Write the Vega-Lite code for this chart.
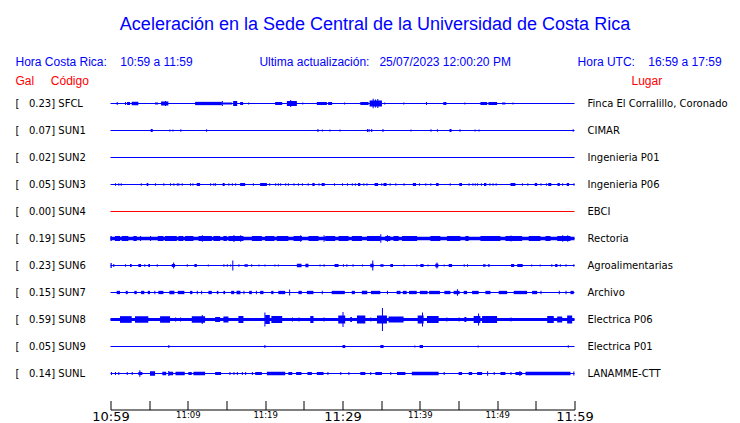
{
  "$schema": "https://vega.github.io/schema/vega-lite/v6.json",
  "autosize": {"type": "none"},
  "width": 464,
  "height": 324,
  "padding": {"left": 110.5, "top": 76.5, "right": 165.5, "bottom": 22.5},
  "background": "white",
  "config": {"view": {"stroke": null}, "font": "Liberation Sans"},
  "title": {
    "text": "Aceleración en la Sede Central de la Universidad de Costa Rica",
    "anchor": "middle",
    "frame": "group",
    "dx": 32.5,
    "font": "Liberation Sans",
    "fontSize": 18,
    "fontWeight": "normal",
    "color": "#0000ff",
    "offset": 21
  },
  "datasets": {
    "stations": [
      {"s": "SFCL", "gal": 0.23, "lugar": "Finca El Corralillo, Coronado"},
      {"s": "SUN1", "gal": 0.07, "lugar": "CIMAR"},
      {"s": "SUN2", "gal": 0.02, "lugar": "Ingenieria P01"},
      {"s": "SUN3", "gal": 0.05, "lugar": "Ingenieria P06"},
      {"s": "SUN4", "gal": 0.00, "lugar": "EBCI"},
      {"s": "SUN5", "gal": 0.19, "lugar": "Rectoria"},
      {"s": "SUN6", "gal": 0.23, "lugar": "Agroalimentarias"},
      {"s": "SUN7", "gal": 0.15, "lugar": "Archivo"},
      {"s": "SUN8", "gal": 0.59, "lugar": "Electrica P06"},
      {"s": "SUN9", "gal": 0.05, "lugar": "Electrica P01"},
      {"s": "SUNL", "gal": 0.14, "lugar": "LANAMME-CTT"}
    ],
    "bursts": [
      {"s":"SFCL","t0":0.80,"t1":0.93,"a":3},{"s":"SFCL","t0":1.88,"t1":2.01,"a":3},{"s":"SFCL","t0":2.14,"t1":2.52,"a":3},{"s":"SFCL","t0":2.74,"t1":3.60,"a":3.5},{"s":"SFCL","t0":5.76,"t1":6.15,"a":2},{"s":"SFCL","t0":6.54,"t1":7.48,"a":4},{"s":"SFCL","t0":7.05,"t1":7.18,"a":5},{"s":"SFCL","t0":10.94,"t1":14.40,"a":3.3},{"s":"SFCL","t0":14.40,"t1":14.53,"a":5},{"s":"SFCL","t0":14.56,"t1":15.73,"a":2},{"s":"SFCL","t0":15.86,"t1":16.38,"a":5},{"s":"SFCL","t0":16.76,"t1":17.15,"a":3},{"s":"SFCL","t0":17.80,"t1":17.93,"a":2},{"s":"SFCL","t0":21.29,"t1":22.20,"a":3},{"s":"SFCL","t0":22.81,"t1":24.10,"a":5},{"s":"SFCL","t0":23.24,"t1":23.37,"a":7},{"s":"SFCL","t0":24.79,"t1":24.92,"a":2},{"s":"SFCL","t0":26.68,"t1":27.98,"a":3},{"s":"SFCL","t0":28.14,"t1":28.66,"a":3},{"s":"SFCL","t0":30.21,"t1":30.34,"a":2},{"s":"SFCL","t0":32.30,"t1":33.37,"a":3},{"s":"SFCL","t0":33.50,"t1":35.10,"a":6},{"s":"SFCL","t0":33.90,"t1":34.03,"a":9.5},{"s":"SFCL","t0":34.20,"t1":34.33,"a":8},{"s":"SFCL","t0":34.50,"t1":34.63,"a":9},{"s":"SFCL","t0":35.39,"t1":35.52,"a":2},{"s":"SFCL","t0":37.86,"t1":37.99,"a":2},{"s":"SFCL","t0":40.80,"t1":40.93,"a":3},{"s":"SFCL","t0":43.04,"t1":43.43,"a":3},{"s":"SFCL","t0":45.76,"t1":45.89,"a":2},{"s":"SFCL","t0":47.83,"t1":48.70,"a":3},{"s":"SFCL","t0":48.87,"t1":49.99,"a":3},{"s":"SFCL","t0":50.66,"t1":51.05,"a":2},{"s":"SFCL","t0":51.98,"t1":52.11,"a":2},
      {"s":"SUN1","t0":5.20,"t1":5.46,"a":3},{"s":"SUN1","t0":7.61,"t1":7.74,"a":2},{"s":"SUN1","t0":8.00,"t1":8.13,"a":2},{"s":"SUN1","t0":9.03,"t1":9.16,"a":2.5},{"s":"SUN1","t0":12.36,"t1":12.49,"a":2.5},{"s":"SUN1","t0":26.76,"t1":26.89,"a":3},{"s":"SUN1","t0":27.33,"t1":27.46,"a":2},{"s":"SUN1","t0":28.31,"t1":28.44,"a":2},{"s":"SUN1","t0":29.61,"t1":29.74,"a":2},{"s":"SUN1","t0":33.16,"t1":33.29,"a":3},{"s":"SUN1","t0":33.37,"t1":33.50,"a":3},{"s":"SUN1","t0":33.71,"t1":33.84,"a":3},{"s":"SUN1","t0":35.17,"t1":35.30,"a":3},{"s":"SUN1","t0":38.79,"t1":38.92,"a":2},{"s":"SUN1","t0":41.38,"t1":41.51,"a":2.5},{"s":"SUN1","t0":42.21,"t1":42.34,"a":2.5},{"s":"SUN1","t0":43.84,"t1":44.10,"a":3},{"s":"SUN1","t0":45.13,"t1":45.26,"a":2.5},{"s":"SUN1","t0":47.08,"t1":47.21,"a":2},{"s":"SUN1","t0":47.59,"t1":47.72,"a":2},{"s":"SUN1","t0":59.76,"t1":59.89,"a":2.5},
      {"s":"SUN3","t0":0.58,"t1":0.71,"a":2.5},{"s":"SUN3","t0":1.01,"t1":1.14,"a":2.5},{"s":"SUN3","t0":1.32,"t1":1.45,"a":2.5},{"s":"SUN3","t0":3.91,"t1":4.04,"a":2.5},{"s":"SUN3","t0":4.68,"t1":4.89,"a":3},{"s":"SUN3","t0":5.76,"t1":5.89,"a":2.5},{"s":"SUN3","t0":6.83,"t1":6.96,"a":2.5},{"s":"SUN3","t0":7.70,"t1":7.83,"a":2.5},{"s":"SUN3","t0":8.13,"t1":8.26,"a":2.5},{"s":"SUN3","t0":8.57,"t1":8.70,"a":2.5},{"s":"SUN3","t0":8.77,"t1":8.90,"a":2.5},{"s":"SUN3","t0":9.21,"t1":9.34,"a":2.5},{"s":"SUN3","t0":10.29,"t1":10.42,"a":2.5},{"s":"SUN3","t0":10.59,"t1":10.72,"a":2.5},{"s":"SUN3","t0":11.15,"t1":11.58,"a":3},{"s":"SUN3","t0":12.88,"t1":13.01,"a":2.5},{"s":"SUN3","t0":13.30,"t1":13.43,"a":2.5},{"s":"SUN3","t0":13.52,"t1":13.65,"a":2.5},{"s":"SUN3","t0":14.50,"t1":14.76,"a":3},{"s":"SUN3","t0":15.24,"t1":15.37,"a":2.5},{"s":"SUN3","t0":15.69,"t1":15.82,"a":2.5},{"s":"SUN3","t0":16.12,"t1":16.25,"a":2.5},{"s":"SUN3","t0":16.76,"t1":17.41,"a":3},{"s":"SUN3","t0":18.41,"t1":18.54,"a":2.5},{"s":"SUN3","t0":19.35,"t1":20.22,"a":3},{"s":"SUN3","t0":20.52,"t1":20.65,"a":2.5},{"s":"SUN3","t0":21.29,"t1":21.42,"a":2.5},{"s":"SUN3","t0":21.64,"t1":21.77,"a":2.5},{"s":"SUN3","t0":21.94,"t1":22.07,"a":2.5},{"s":"SUN3","t0":22.59,"t1":22.72,"a":2.5},{"s":"SUN3","t0":22.94,"t1":23.07,"a":2.5},{"s":"SUN3","t0":23.66,"t1":23.79,"a":2.5},{"s":"SUN3","t0":24.23,"t1":24.36,"a":2.5},{"s":"SUN3","t0":24.75,"t1":24.88,"a":2.5},{"s":"SUN3","t0":25.50,"t1":25.63,"a":2.5},{"s":"SUN3","t0":26.10,"t1":26.40,"a":3},{"s":"SUN3","t0":26.90,"t1":27.03,"a":2.5},{"s":"SUN3","t0":27.30,"t1":27.70,"a":3},{"s":"SUN3","t0":28.89,"t1":29.02,"a":2.5},{"s":"SUN3","t0":29.93,"t1":30.06,"a":2.5},{"s":"SUN3","t0":30.58,"t1":30.71,"a":2.5},{"s":"SUN3","t0":31.20,"t1":31.33,"a":2.5},{"s":"SUN3","t0":31.60,"t1":31.73,"a":2.5},{"s":"SUN3","t0":32.00,"t1":32.30,"a":3},{"s":"SUN3","t0":32.70,"t1":32.83,"a":2.5},{"s":"SUN3","t0":33.10,"t1":33.23,"a":2.5},{"s":"SUN3","t0":34.15,"t1":34.60,"a":3},{"s":"SUN3","t0":35.00,"t1":35.13,"a":2.5},{"s":"SUN3","t0":35.30,"t1":35.70,"a":3},{"s":"SUN3","t0":36.10,"t1":36.23,"a":2.5},{"s":"SUN3","t0":36.83,"t1":36.96,"a":2.5},{"s":"SUN3","t0":37.90,"t1":38.03,"a":2.5},{"s":"SUN3","t0":39.10,"t1":39.50,"a":3},{"s":"SUN3","t0":39.90,"t1":40.03,"a":2.5},{"s":"SUN3","t0":40.71,"t1":40.84,"a":2.5},{"s":"SUN3","t0":41.36,"t1":41.49,"a":2.5},{"s":"SUN3","t0":42.10,"t1":42.43,"a":3},{"s":"SUN3","t0":43.86,"t1":43.99,"a":2.5},{"s":"SUN3","t0":45.10,"t1":45.45,"a":3},{"s":"SUN3","t0":46.30,"t1":46.43,"a":2.5},{"s":"SUN3","t0":46.80,"t1":46.93,"a":2.5},{"s":"SUN3","t0":47.10,"t1":47.23,"a":2.5},{"s":"SUN3","t0":47.40,"t1":47.53,"a":2.5},{"s":"SUN3","t0":47.90,"t1":48.03,"a":2.5},{"s":"SUN3","t0":48.30,"t1":48.60,"a":3},{"s":"SUN3","t0":49.00,"t1":49.13,"a":2.5},{"s":"SUN3","t0":49.40,"t1":49.53,"a":2.5},{"s":"SUN3","t0":49.80,"t1":49.93,"a":2.5},{"s":"SUN3","t0":51.72,"t1":52.36,"a":3},{"s":"SUN3","t0":53.20,"t1":53.33,"a":2.5},{"s":"SUN3","t0":53.90,"t1":54.03,"a":2.5},{"s":"SUN3","t0":54.86,"t1":55.17,"a":3},{"s":"SUN3","t0":55.60,"t1":55.73,"a":2.5},{"s":"SUN3","t0":56.30,"t1":56.43,"a":2.5},{"s":"SUN3","t0":56.60,"t1":57.00,"a":3},{"s":"SUN3","t0":57.80,"t1":58.10,"a":3},{"s":"SUN3","t0":58.40,"t1":58.53,"a":2.5},{"s":"SUN3","t0":59.00,"t1":59.30,"a":3},{"s":"SUN3","t0":59.87,"t1":60.00,"a":2.5},
      {"s":"SUN5","t0":0,"t1":60,"a":3.3},{"s":"SUN5","t0":0,"t1":0.16,"a":5},{"s":"SUN5","t0":0.58,"t1":1.23,"a":5},{"s":"SUN5","t0":1.45,"t1":2.30,"a":5},{"s":"SUN5","t0":2.95,"t1":3.39,"a":5},{"s":"SUN5","t0":3.82,"t1":3.95,"a":5},{"s":"SUN5","t0":5.11,"t1":5.24,"a":5},{"s":"SUN5","t0":6.11,"t1":6.84,"a":5},{"s":"SUN5","t0":7.05,"t1":8.57,"a":5},{"s":"SUN5","t0":8.78,"t1":9.42,"a":5},{"s":"SUN5","t0":9.64,"t1":10.72,"a":5},{"s":"SUN5","t0":11.37,"t1":13.10,"a":5},{"s":"SUN5","t0":11.81,"t1":11.94,"a":6.7},{"s":"SUN5","t0":13.31,"t1":14.17,"a":5},{"s":"SUN5","t0":14.60,"t1":15.04,"a":5},{"s":"SUN5","t0":15.25,"t1":17.19,"a":5},{"s":"SUN5","t0":15.90,"t1":16.03,"a":7},{"s":"SUN5","t0":16.76,"t1":16.89,"a":6.5},{"s":"SUN5","t0":18.28,"t1":19.57,"a":5},{"s":"SUN5","t0":20.00,"t1":21.20,"a":5},{"s":"SUN5","t0":21.50,"t1":23.00,"a":5},{"s":"SUN5","t0":23.66,"t1":24.75,"a":5},{"s":"SUN5","t0":24.53,"t1":24.66,"a":6.5},{"s":"SUN5","t0":25.60,"t1":26.90,"a":5},{"s":"SUN5","t0":27.55,"t1":27.68,"a":6.7},{"s":"SUN5","t0":27.77,"t1":29.06,"a":5},{"s":"SUN5","t0":29.49,"t1":30.78,"a":5},{"s":"SUN5","t0":31.22,"t1":32.52,"a":5},{"s":"SUN5","t0":33.16,"t1":34.89,"a":5},{"s":"SUN5","t0":34.89,"t1":35.02,"a":8.7},{"s":"SUN5","t0":35.53,"t1":36.18,"a":5},{"s":"SUN5","t0":35.75,"t1":35.88,"a":6.5},{"s":"SUN5","t0":36.60,"t1":37.26,"a":5},{"s":"SUN5","t0":37.70,"t1":39.64,"a":5},{"s":"SUN5","t0":41.36,"t1":42.65,"a":5},{"s":"SUN5","t0":43.52,"t1":45.24,"a":5},{"s":"SUN5","t0":45.89,"t1":46.32,"a":5},{"s":"SUN5","t0":47.83,"t1":50.42,"a":5},{"s":"SUN5","t0":51.07,"t1":53.23,"a":5},{"s":"SUN5","t0":51.72,"t1":51.85,"a":6},{"s":"SUN5","t0":54.08,"t1":55.60,"a":5},{"s":"SUN5","t0":56.24,"t1":56.89,"a":5},{"s":"SUN5","t0":57.76,"t1":59.48,"a":5},{"s":"SUN5","t0":58.41,"t1":58.54,"a":6.5},{"s":"SUN5","t0":59.06,"t1":59.19,"a":6.5},
      {"s":"SUN6","t0":0.00,"t1":0.16,"a":5},{"s":"SUN6","t0":0.36,"t1":0.49,"a":3},{"s":"SUN6","t0":1.88,"t1":2.01,"a":2.5},{"s":"SUN6","t0":2.52,"t1":2.74,"a":3},{"s":"SUN6","t0":3.60,"t1":3.95,"a":3},{"s":"SUN6","t0":4.37,"t1":4.50,"a":2.5},{"s":"SUN6","t0":4.89,"t1":5.11,"a":3},{"s":"SUN6","t0":5.98,"t1":6.11,"a":2.5},{"s":"SUN6","t0":7.92,"t1":8.35,"a":3},{"s":"SUN6","t0":8.10,"t1":8.23,"a":6},{"s":"SUN6","t0":9.86,"t1":9.99,"a":2.5},{"s":"SUN6","t0":10.85,"t1":11.16,"a":3},{"s":"SUN6","t0":12.58,"t1":12.71,"a":2},{"s":"SUN6","t0":14.60,"t1":14.73,"a":2.5},{"s":"SUN6","t0":15.04,"t1":15.17,"a":2.5},{"s":"SUN6","t0":15.47,"t1":15.60,"a":2},{"s":"SUN6","t0":15.75,"t1":15.88,"a":10},{"s":"SUN6","t0":16.54,"t1":16.67,"a":2.5},{"s":"SUN6","t0":17.32,"t1":17.76,"a":2.5},{"s":"SUN6","t0":18.19,"t1":18.32,"a":2.5},{"s":"SUN6","t0":19.13,"t1":19.26,"a":2},{"s":"SUN6","t0":19.91,"t1":20.04,"a":2},{"s":"SUN6","t0":21.20,"t1":21.33,"a":2},{"s":"SUN6","t0":21.64,"t1":21.77,"a":2},{"s":"SUN6","t0":24.10,"t1":24.70,"a":3.5},{"s":"SUN6","t0":25.20,"t1":25.60,"a":3.5},{"s":"SUN6","t0":27.03,"t1":27.16,"a":2},{"s":"SUN6","t0":27.55,"t1":27.68,"a":2.5},{"s":"SUN6","t0":28.97,"t1":29.49,"a":3},{"s":"SUN6","t0":30.06,"t1":30.19,"a":2.5},{"s":"SUN6","t0":30.50,"t1":30.63,"a":2.5},{"s":"SUN6","t0":31.30,"t1":31.43,"a":2.5},{"s":"SUN6","t0":32.52,"t1":32.65,"a":2},{"s":"SUN6","t0":33.59,"t1":34.02,"a":3.5},{"s":"SUN6","t0":33.85,"t1":33.98,"a":10},{"s":"SUN6","t0":34.89,"t1":35.31,"a":2.5},{"s":"SUN6","t0":36.18,"t1":36.53,"a":3},{"s":"SUN6","t0":37.90,"t1":38.03,"a":2},{"s":"SUN6","t0":39.55,"t1":39.68,"a":2},{"s":"SUN6","t0":40.06,"t1":40.49,"a":3},{"s":"SUN6","t0":41.00,"t1":41.13,"a":2},{"s":"SUN6","t0":42.00,"t1":42.40,"a":3.5},{"s":"SUN6","t0":42.15,"t1":42.28,"a":6},{"s":"SUN6","t0":43.08,"t1":43.21,"a":2},{"s":"SUN6","t0":43.73,"t1":44.17,"a":3},{"s":"SUN6","t0":45.67,"t1":45.80,"a":2.5},{"s":"SUN6","t0":46.10,"t1":46.23,"a":2.5},{"s":"SUN6","t0":48.18,"t1":48.50,"a":2.5},{"s":"SUN6","t0":48.80,"t1":49.04,"a":2.5},{"s":"SUN6","t0":51.80,"t1":52.20,"a":3},{"s":"SUN6","t0":52.60,"t1":53.30,"a":3},{"s":"SUN6","t0":54.40,"t1":54.53,"a":2},{"s":"SUN6","t0":55.50,"t1":55.63,"a":2},{"s":"SUN6","t0":57.00,"t1":57.13,"a":2.5},{"s":"SUN6","t0":57.50,"t1":57.80,"a":3},{"s":"SUN6","t0":58.10,"t1":58.23,"a":2.5},{"s":"SUN6","t0":58.84,"t1":58.97,"a":2.5},{"s":"SUN6","t0":59.85,"t1":59.98,"a":2.5},
      {"s":"SUN7","t0":0.80,"t1":1.23,"a":3.3},{"s":"SUN7","t0":1.97,"t1":2.23,"a":3.3},{"s":"SUN7","t0":3.08,"t1":3.39,"a":3.3},{"s":"SUN7","t0":3.95,"t1":4.37,"a":3.3},{"s":"SUN7","t0":4.82,"t1":5.11,"a":3.3},{"s":"SUN7","t0":5.67,"t1":5.80,"a":3.3},{"s":"SUN7","t0":6.19,"t1":6.84,"a":3.3},{"s":"SUN7","t0":7.61,"t1":8.26,"a":3.3},{"s":"SUN7","t0":8.70,"t1":9.55,"a":3.3},{"s":"SUN7","t0":10.29,"t1":10.59,"a":3.3},{"s":"SUN7","t0":11.16,"t1":11.29,"a":3.3},{"s":"SUN7","t0":11.72,"t1":11.85,"a":3.3},{"s":"SUN7","t0":12.66,"t1":13.10,"a":3.3},{"s":"SUN7","t0":13.75,"t1":13.95,"a":3.3},{"s":"SUN7","t0":14.60,"t1":14.82,"a":3.3},{"s":"SUN7","t0":15.60,"t1":16.00,"a":3.3},{"s":"SUN7","t0":16.30,"t1":16.80,"a":3.3},{"s":"SUN7","t0":17.19,"t1":17.32,"a":3.3},{"s":"SUN7","t0":17.93,"t1":18.28,"a":3.3},{"s":"SUN7","t0":18.80,"t1":18.93,"a":3.3},{"s":"SUN7","t0":19.35,"t1":19.78,"a":3.3},{"s":"SUN7","t0":20.78,"t1":21.07,"a":3.3},{"s":"SUN7","t0":21.70,"t1":22.59,"a":3.3},{"s":"SUN7","t0":23.10,"t1":23.23,"a":6},{"s":"SUN7","t0":24.30,"t1":24.74,"a":3.3},{"s":"SUN7","t0":25.39,"t1":26.24,"a":3.3},{"s":"SUN7","t0":27.32,"t1":27.45,"a":3.3},{"s":"SUN7","t0":28.60,"t1":30.30,"a":3.3},{"s":"SUN7","t0":31.20,"t1":31.60,"a":3.3},{"s":"SUN7","t0":32.50,"t1":33.20,"a":3.3},{"s":"SUN7","t0":33.68,"t1":34.89,"a":3.3},{"s":"SUN7","t0":35.75,"t1":35.88,"a":3.3},{"s":"SUN7","t0":37.00,"t1":37.50,"a":3.3},{"s":"SUN7","t0":37.80,"t1":38.30,"a":3.3},{"s":"SUN7","t0":38.60,"t1":39.60,"a":3.3},{"s":"SUN7","t0":40.00,"t1":41.00,"a":3.3},{"s":"SUN7","t0":41.20,"t1":42.60,"a":3.3},{"s":"SUN7","t0":43.17,"t1":43.95,"a":3.3},{"s":"SUN7","t0":44.37,"t1":45.15,"a":3.3},{"s":"SUN7","t0":44.80,"t1":44.93,"a":6.3},{"s":"SUN7","t0":45.67,"t1":46.11,"a":3.3},{"s":"SUN7","t0":46.76,"t1":47.61,"a":3.3},{"s":"SUN7","t0":48.48,"t1":49.13,"a":3.3},{"s":"SUN7","t0":50.20,"t1":51.29,"a":3.3},{"s":"SUN7","t0":52.14,"t1":53.87,"a":3.3},{"s":"SUN7","t0":54.52,"t1":55.17,"a":3.3},{"s":"SUN7","t0":55.60,"t1":55.73,"a":3.3},{"s":"SUN7","t0":57.97,"t1":58.10,"a":3.3},{"s":"SUN7","t0":58.84,"t1":58.97,"a":3.3},{"s":"SUN7","t0":59.48,"t1":59.90,"a":3.3},
      {"s":"SUN8","t0":0,"t1":60,"a":3},{"s":"SUN8","t0":1.23,"t1":2.74,"a":6.7},{"s":"SUN8","t0":3.17,"t1":4.89,"a":6.5},{"s":"SUN8","t0":6.41,"t1":7.70,"a":6.5},{"s":"SUN8","t0":8.35,"t1":8.48,"a":4},{"s":"SUN8","t0":9.00,"t1":9.13,"a":4},{"s":"SUN8","t0":10.51,"t1":12.23,"a":6.5},{"s":"SUN8","t0":11.80,"t1":11.93,"a":9},{"s":"SUN8","t0":13.53,"t1":14.17,"a":5},{"s":"SUN8","t0":14.60,"t1":15.25,"a":6},{"s":"SUN8","t0":16.54,"t1":17.19,"a":7},{"s":"SUN8","t0":19.90,"t1":20.03,"a":14},{"s":"SUN8","t0":20.00,"t1":20.60,"a":9},{"s":"SUN8","t0":20.80,"t1":22.20,"a":7},{"s":"SUN8","t0":23.46,"t1":23.59,"a":4},{"s":"SUN8","t0":24.31,"t1":24.44,"a":4},{"s":"SUN8","t0":25.83,"t1":26.25,"a":7},{"s":"SUN8","t0":27.55,"t1":27.68,"a":4},{"s":"SUN8","t0":29.45,"t1":30.35,"a":8},{"s":"SUN8","t0":30.00,"t1":30.13,"a":15},{"s":"SUN8","t0":31.00,"t1":31.22,"a":5},{"s":"SUN8","t0":31.87,"t1":32.95,"a":8},{"s":"SUN8","t0":33.59,"t1":33.72,"a":4},{"s":"SUN8","t0":34.46,"t1":35.75,"a":8},{"s":"SUN8","t0":35.10,"t1":35.23,"a":23},{"s":"SUN8","t0":35.96,"t1":37.90,"a":6},{"s":"SUN8","t0":39.72,"t1":40.49,"a":8},{"s":"SUN8","t0":40.28,"t1":40.41,"a":14},{"s":"SUN8","t0":40.93,"t1":42.43,"a":7},{"s":"SUN8","t0":43.43,"t1":43.56,"a":4},{"s":"SUN8","t0":45.02,"t1":45.15,"a":4},{"s":"SUN8","t0":45.76,"t1":46.02,"a":5},{"s":"SUN8","t0":46.96,"t1":47.83,"a":7},{"s":"SUN8","t0":47.53,"t1":47.66,"a":12},{"s":"SUN8","t0":48.05,"t1":49.99,"a":7},{"s":"SUN8","t0":51.72,"t1":51.85,"a":4},{"s":"SUN8","t0":56.47,"t1":57.32,"a":7},{"s":"SUN8","t0":57.76,"t1":58.41,"a":6},{"s":"SUN8","t0":59.05,"t1":59.70,"a":8},
      {"s":"SUN9","t0":7.48,"t1":7.61,"a":3},{"s":"SUN9","t0":19.90,"t1":20.03,"a":3},{"s":"SUN9","t0":30.00,"t1":30.35,"a":3},{"s":"SUN9","t0":34.89,"t1":35.31,"a":3},{"s":"SUN9","t0":39.29,"t1":39.42,"a":2},{"s":"SUN9","t0":39.97,"t1":40.41,"a":3},{"s":"SUN9","t0":47.48,"t1":47.61,"a":2},{"s":"SUN9","t0":59.13,"t1":59.26,"a":2.5},
      {"s":"SUNL","t0":0.06,"t1":0.19,"a":3},{"s":"SUNL","t0":0.58,"t1":0.71,"a":3},{"s":"SUNL","t0":1.01,"t1":1.14,"a":3},{"s":"SUNL","t0":2.10,"t1":2.23,"a":3},{"s":"SUNL","t0":2.74,"t1":2.87,"a":3},{"s":"SUNL","t0":3.60,"t1":4.12,"a":3},{"s":"SUNL","t0":3.73,"t1":3.86,"a":6.7},{"s":"SUNL","t0":5.11,"t1":5.76,"a":4.5},{"s":"SUNL","t0":6.70,"t1":7.20,"a":3.5},{"s":"SUNL","t0":7.50,"t1":8.10,"a":3.5},{"s":"SUNL","t0":7.48,"t1":7.61,"a":5},{"s":"SUNL","t0":8.40,"t1":9.60,"a":3.5},{"s":"SUNL","t0":10.07,"t1":10.51,"a":3},{"s":"SUNL","t0":10.72,"t1":12.23,"a":3.5},{"s":"SUNL","t0":13.53,"t1":14.30,"a":3},{"s":"SUNL","t0":15.38,"t1":15.51,"a":3},{"s":"SUNL","t0":15.90,"t1":16.03,"a":3},{"s":"SUNL","t0":16.34,"t1":16.47,"a":3},{"s":"SUNL","t0":16.98,"t1":17.11,"a":3},{"s":"SUNL","t0":17.41,"t1":17.54,"a":3},{"s":"SUNL","t0":18.28,"t1":18.41,"a":3},{"s":"SUNL","t0":18.71,"t1":19.57,"a":3},{"s":"SUNL","t0":20.22,"t1":22.59,"a":3.5},{"s":"SUNL","t0":23.00,"t1":23.50,"a":3},{"s":"SUNL","t0":24.00,"t1":24.70,"a":3},{"s":"SUNL","t0":25.47,"t1":26.04,"a":3},{"s":"SUNL","t0":26.68,"t1":27.55,"a":3},{"s":"SUNL","t0":28.05,"t1":28.18,"a":3},{"s":"SUNL","t0":29.71,"t1":29.84,"a":3},{"s":"SUNL","t0":30.76,"t1":30.89,"a":3},{"s":"SUNL","t0":32.30,"t1":32.95,"a":3},{"s":"SUNL","t0":33.59,"t1":33.72,"a":3},{"s":"SUNL","t0":34.24,"t1":35.10,"a":3},{"s":"SUNL","t0":36.18,"t1":36.31,"a":3},{"s":"SUNL","t0":37.05,"t1":38.13,"a":3},{"s":"SUNL","t0":38.96,"t1":42.43,"a":3.5},{"s":"SUNL","t0":43.08,"t1":43.21,"a":3},{"s":"SUNL","t0":45.02,"t1":45.46,"a":3},{"s":"SUNL","t0":46.32,"t1":46.76,"a":3},{"s":"SUNL","t0":47.41,"t1":48.05,"a":3},{"s":"SUNL","t0":48.70,"t1":48.83,"a":4.5},{"s":"SUNL","t0":49.55,"t1":49.68,"a":3},{"s":"SUNL","t0":50.42,"t1":51.07,"a":3},{"s":"SUNL","t0":51.72,"t1":51.85,"a":3},{"s":"SUNL","t0":52.36,"t1":53.23,"a":3},{"s":"SUNL","t0":52.88,"t1":53.01,"a":5},{"s":"SUNL","t0":53.66,"t1":59.48,"a":3.5},{"s":"SUNL","t0":59.85,"t1":59.98,"a":4}
    ]
  },
  "resolve": {"axis": {"y": "independent", "x": "independent"}},
  "layer": [
    {
      "data": {"name": "stations"},
      "mark": {"type": "rule", "strokeWidth": 1},
      "encoding": {
        "x": {
          "datum": 0, "type": "quantitative",
          "axis": {
            "orient": "top", "labels": false, "ticks": false, "domain": false, "grid": false,
            "title": "Hora Costa Rica:\u00a0\u00a0\u00a0\u00a010:59 a 11:59\u00a0\u00a0\u00a0\u00a0\u00a0\u00a0\u00a0\u00a0\u00a0\u00a0\u00a0\u00a0\u00a0\u00a0\u00a0\u00a0\u00a0\u00a0\u00a0\u00a0Ultima actualización:\u00a0\u00a0\u00a025/07/2023 12:00:20 PM\u00a0\u00a0\u00a0\u00a0\u00a0\u00a0\u00a0\u00a0\u00a0\u00a0\u00a0\u00a0\u00a0\u00a0\u00a0\u00a0\u00a0\u00a0\u00a0\u00a0Hora UTC:\u00a0\u00a0\u00a0\u00a016:59 a 17:59",
            "titleAnchor": "start", "titleAlign": "left", "titleBaseline": "alphabetic",
            "titleX": -95.5, "titleY": -11.5, "titleColor": "#0000ff",
            "titleFont": "Liberation Sans", "titleFontSize": 12, "titleFontWeight": "normal"
          }
        },
        "x2": {"datum": 60},
        "y": {
          "field": "s", "type": "nominal",
          "scale": {"type": "band", "domain": ["SFCL","SUN1","SUN2","SUN3","SUN4","SUN5","SUN6","SUN7","SUN8","SUN9","SUNL"], "paddingInner": 0, "paddingOuter": 0.5},
          "axis": {
            "orient": "left",
            "labelExpr": "{'SFCL':'[\u00a0\u00a0\u00a00.23]\u00a0SFCL','SUN1':'[\u00a0\u00a0\u00a00.07]\u00a0SUN1','SUN2':'[\u00a0\u00a0\u00a00.02]\u00a0SUN2','SUN3':'[\u00a0\u00a0\u00a00.05]\u00a0SUN3','SUN4':'[\u00a0\u00a0\u00a00.00]\u00a0SUN4','SUN5':'[\u00a0\u00a0\u00a00.19]\u00a0SUN5','SUN6':'[\u00a0\u00a0\u00a00.23]\u00a0SUN6','SUN7':'[\u00a0\u00a0\u00a00.15]\u00a0SUN7','SUN8':'[\u00a0\u00a0\u00a00.59]\u00a0SUN8','SUN9':'[\u00a0\u00a0\u00a00.05]\u00a0SUN9','SUNL':'[\u00a0\u00a0\u00a00.14]\u00a0SUNL'}[datum.value]",
            "labelAlign": "left", "labelBaseline": "middle", "labelPadding": 95.5,
            "labelFont": "DejaVu Sans", "labelFontSize": 10, "labelColor": "black",
            "ticks": false, "tickSize": 0, "domain": false, "grid": false,
            "title": "Gal\u00a0\u00a0\u00a0\u00a0\u00a0Código",
            "titleAngle": 0, "titleAlign": "left", "titleBaseline": "alphabetic",
            "titleX": -95.5, "titleY": 7.5, "titleColor": "#ff0000",
            "titleFont": "Liberation Sans", "titleFontSize": 12, "titleFontWeight": "normal"
          }
        },
        "color": {"condition": {"test": "datum.s == 'SUN4'", "value": "#ff0000"}, "value": "#0000ff"}
      }
    },
    {
      "data": {"name": "bursts"},
      "mark": {"type": "bar", "color": "#0000ff"},
      "encoding": {
        "x": {
          "field": "t0", "type": "quantitative",
          "scale": {"domain": [0, 60], "nice": false, "zero": false},
          "axis": {
            "orient": "bottom",
            "values": [0,5,10,15,20,25,30,35,40,45,50,55,60],
            "labelExpr": "datum.value % 10 == 0 ? (10 + floor((59 + datum.value) / 60)) + ':' + (((59 + datum.value) % 60) < 10 ? '0' : '') + ((59 + datum.value) % 60) : ''",
            "labelFontSize": {"condition": {"test": "datum.value % 30 == 0", "value": 13}, "value": 8.5},
            "labelFont": "DejaVu Sans", "labelColor": "black", "labelBaseline": "top",
            "labelFlush": false, "labelOverlap": false, "labelPadding": 10,
            "tickSize": -9, "tickColor": "black", "domainColor": "black",
            "offset": 9, "grid": false, "title": null
          }
        },
        "x2": {"field": "t1"},
        "y": {
          "field": "s", "type": "nominal",
          "axis": {
            "orient": "right",
            "labelExpr": "{'SFCL':'Finca El Corralillo, Coronado','SUN1':'CIMAR','SUN2':'Ingenieria P01','SUN3':'Ingenieria P06','SUN4':'EBCI','SUN5':'Rectoria','SUN6':'Agroalimentarias','SUN7':'Archivo','SUN8':'Electrica P06','SUN9':'Electrica P01','SUNL':'LANAMME-CTT'}[datum.value]",
            "labelAlign": "left", "labelBaseline": "middle", "labelPadding": 12.5,
            "labelFont": "DejaVu Sans", "labelFontSize": 10, "labelColor": "black",
            "ticks": false, "tickSize": 0, "domain": false, "grid": false,
            "title": "Lugar",
            "titleAngle": 0, "titleAlign": "left", "titleBaseline": "alphabetic",
            "titleX": 56.5, "titleY": 7.5, "titleColor": "#ff0000",
            "titleFont": "Liberation Sans", "titleFontSize": 12, "titleFontWeight": "normal"
          }
        },
        "size": {"field": "a", "type": "quantitative", "scale": {"domain": [0, 30], "range": [0, 30]}, "legend": null}
      }
    }
  ]
}
